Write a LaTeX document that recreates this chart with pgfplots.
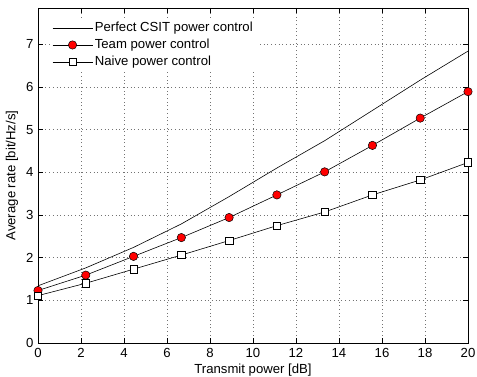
\documentclass[border=0pt]{standalone}
\usepackage{pgfplots}
\pgfplotsset{compat=1.18}
\usepackage{fontspec}
\setmainfont{Liberation Sans}
\begin{document}
\fontsize{13.2}{15}\selectfont
\begin{tikzpicture}
\begin{axis}[
  name=ax,
  width=430bp, height=335bp, scale only axis,
  xmin=0, xmax=20, ymin=0, ymax=7.85,
  xtick={0,2,...,20}, ytick={0,1,...,7},
  /pgf/number format/assume math mode=true,
  tick label style={font=\fontsize{13.2}{15}\selectfont},
  xticklabel style={yshift=-1bp},
  label style={font=\fontsize{13.2}{15}\selectfont},
  xlabel={Transmit power [dB]},
  ylabel={Average rate [bit/Hz/s]},
  xlabel style={yshift=3bp},
  ylabel style={yshift=-1bp},
  grid=major,
  grid style={dash pattern=on 0.7bp off 3bp, black!55, line width=0.5pt},
  tick align=inside,
  xtick pos=both, ytick pos=both,
  major tick length=5bp,
  tick style={black, line width=0.6pt},
  axis line style={black, line width=0.9pt},
  legend cell align=left,
  legend style={at={(0.028,0.97)}, anchor=north west, draw=none, fill=white,
    font=\fontsize{13.2}{15}\selectfont, row sep=1.5bp, inner sep=2bp},
  legend image code/.code={\draw[mark repeat=2,mark phase=2,#1] plot coordinates {(0bp,0bp)(20bp,0bp)(40bp,0bp)};},
]
\addplot[black, line width=0.6pt, mark=none] coordinates {
(0,1.34) (2.222,1.76) (4.444,2.24) (6.667,2.79) (8.889,3.43) (11.111,4.10) (13.333,4.74) (15.556,5.45) (17.778,6.16) (20,6.84)};
\addlegendentry{Perfect CSIT power control}
\addplot[black, line width=0.6pt, mark=*, mark size=4.2bp, mark options={fill=red, draw=black, line width=0.5pt}] coordinates {
(0,1.23) (2.222,1.59) (4.444,2.03) (6.667,2.47) (8.889,2.94) (11.111,3.47) (13.333,4.01) (15.556,4.63) (17.778,5.27) (20,5.89)};
\addlegendentry{Team power control}
\addplot[black, line width=0.6pt, mark=square*, mark size=3.7bp, mark options={fill=white, draw=black, line width=0.6pt}] coordinates {
(0,1.11) (2.222,1.40) (4.444,1.73) (6.667,2.06) (8.889,2.40) (11.111,2.75) (13.333,3.07) (15.556,3.47) (17.778,3.82) (20,4.23)};
\addlegendentry{Naive power control}
\end{axis}
\pgfresetboundingbox
\path ([xshift=-38bp,yshift=-34bp]ax.south west) rectangle ([xshift=9bp,yshift=8bp]ax.north east);
\end{tikzpicture}
\end{document}
